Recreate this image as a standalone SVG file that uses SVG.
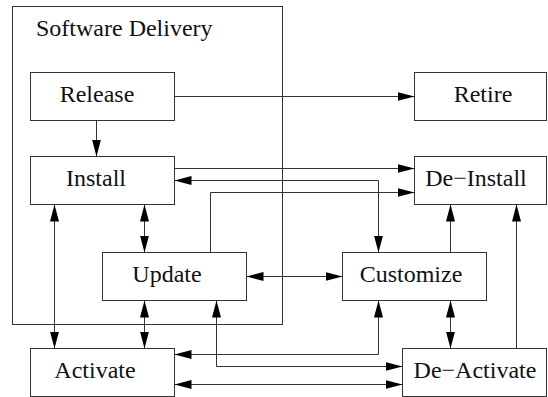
<svg xmlns="http://www.w3.org/2000/svg" width="548" height="397" viewBox="0 0 548 397">
<defs>
<style>
rect{fill:#fff;stroke:#333;stroke-width:1}
text{font-family:'Liberation Serif','DejaVu Serif',serif;font-size:24px;fill:#111;text-anchor:middle}
.c path{fill:none;stroke:#333;stroke-width:1}
</style>
<marker id="a" markerUnits="userSpaceOnUse" markerWidth="18" markerHeight="10" refX="17" refY="4.5" orient="auto-start-reverse">
<path d="M0,0 L17,4.5 L0,9 z" fill="#000"/>
</marker>
</defs>
<rect x="0" y="0" width="548" height="397" style="stroke:none;fill:#fff"/>
<g id="software-delivery">
<rect x="12.5" y="6.5" width="270" height="318" style="fill:none"/>
<text x="36" y="36" font-family="Liberation Serif, serif" style="text-anchor:start">Software Delivery</text>
</g>
<g id="release"><rect x="30.5" y="72.5" width="144" height="48"/><text x="97" y="102" font-family="Liberation Serif, serif">Release</text></g>
<g id="install"><rect x="30.5" y="156.5" width="144" height="48"/><text x="96" y="186" font-family="Liberation Serif, serif">Install</text></g>
<g id="update"><rect x="102.5" y="252.5" width="144" height="48"/><text x="167" y="282" font-family="Liberation Serif, serif">Update</text></g>
<g id="activate"><rect x="30.5" y="348.5" width="144" height="48"/><text x="95" y="378" font-family="Liberation Serif, serif">Activate</text></g>
<g id="retire"><rect x="414.5" y="72.5" width="132" height="48"/><text x="483" y="102" font-family="Liberation Serif, serif">Retire</text></g>
<g id="de-install"><rect x="414.5" y="156.5" width="132" height="48"/><text x="476" y="186" font-family="Liberation Serif, serif">De−Install</text></g>
<g id="customize"><rect x="342.5" y="252.5" width="144" height="48"/><text x="411" y="282" font-family="Liberation Serif, serif">Customize</text></g>
<g id="de-activate"><rect x="402.5" y="348.5" width="144" height="48"/><text x="475" y="378" font-family="Liberation Serif, serif">De−Activate</text></g>
<g class="c" id="connectors">
<path d="M174.5,96.5 H414.5" marker-end="url(#a)"/>
<path d="M96.5,120.5 V156.5" marker-end="url(#a)"/>
<path d="M174.5,168.5 H414.5" marker-end="url(#a)"/>
<path d="M174.5,180.5 H378.5 V252.5" marker-start="url(#a)" marker-end="url(#a)"/>
<path d="M210.5,252.5 V192.5 H414.5" marker-end="url(#a)"/>
<path d="M144.5,204.5 V252.5" marker-start="url(#a)" marker-end="url(#a)"/>
<path d="M54.5,204.5 V348.5" marker-start="url(#a)" marker-end="url(#a)"/>
<path d="M246.5,276.5 H342.5" marker-start="url(#a)" marker-end="url(#a)"/>
<path d="M144.5,300.5 V348.5" marker-start="url(#a)" marker-end="url(#a)"/>
<path d="M450.5,252.5 V204.5" marker-end="url(#a)"/>
<path d="M450.5,300.5 V348.5" marker-start="url(#a)" marker-end="url(#a)"/>
<path d="M516.5,348.5 V204.5" marker-end="url(#a)"/>
<path d="M378.5,300.5 V354.5 H174.5" marker-start="url(#a)" marker-end="url(#a)"/>
<path d="M216.5,300.5 V366.5 H402.5" marker-start="url(#a)" marker-end="url(#a)"/>
<path d="M174.5,384.5 H402.5" marker-start="url(#a)" marker-end="url(#a)"/>
</g>
</svg>
